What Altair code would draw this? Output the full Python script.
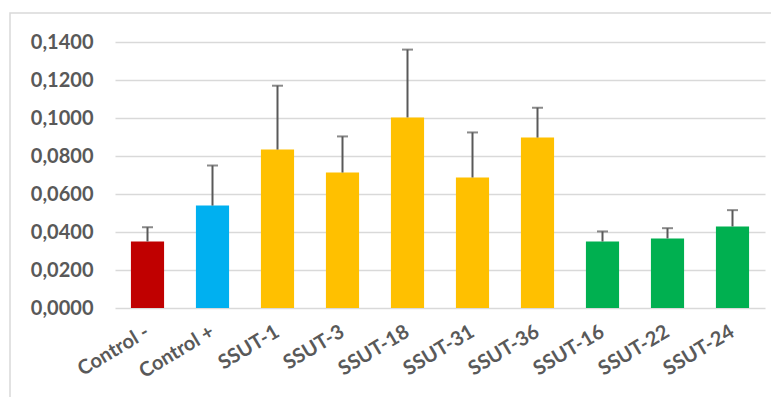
import altair as alt
import pandas as pd

categories = ["Control -", "Control +", "SSUT-1", "SSUT-3", "SSUT-18",
              "SSUT-31", "SSUT-36", "SSUT-16", "SSUT-22", "SSUT-24"]
means = [0.0350, 0.0539, 0.0834, 0.0713, 0.1003, 0.0687, 0.0897, 0.0350, 0.0366, 0.0429]
errors = [0.0075, 0.0211, 0.0336, 0.0190, 0.0357, 0.0237, 0.0157, 0.0053, 0.0054, 0.0086]
groups = ["neg", "pos", "a", "a", "a", "a", "a", "b", "b", "b"]
group_names = ["neg", "pos", "a", "b"]
group_colors = ["#C00000", "#00B0F0", "#FFC000", "#00B050"]
y_ticks = [0, 0.02, 0.04, 0.06, 0.08, 0.10, 0.12, 0.14]

df = pd.DataFrame({
    "cat": categories,
    "mean": means,
    "top": [m + e for m, e in zip(means, errors)],
    "grp": groups,
})

FONT = "Lato"
TXT = "#595959"

x_axis = alt.Axis(labelAngle=-31, labelAlign="right", labelBaseline="middle",
                  labelFont=FONT, labelFontSize=20, labelFontWeight="bold",
                  labelColor=TXT, labelPadding=22, ticks=False, domain=False,
                  labelOverlap=False, labelLimit=300)
x_scale = alt.Scale(paddingInner=0.49, paddingOuter=0.245)
y_axis = alt.Axis(values=y_ticks, format=".4f", labelFont=FONT, labelFontSize=20,
                  labelFontWeight="bold", labelColor=TXT, labelPadding=22,
                  labelOverlap=False, ticks=False, domain=False,
                  gridColor="#D9D9D9", gridWidth=1.5)
y_scale = alt.Scale(domain=[0, 0.14], nice=False)


def X():
    return alt.X("cat:N", sort=categories, title=None, scale=x_scale, axis=x_axis)


def Y(field):
    return alt.Y(field, title=None, scale=y_scale, axis=y_axis)


base = alt.Chart(df)

bars = base.mark_bar().encode(
    x=X(),
    y=Y("mean:Q"),
    color=alt.Color("grp:N", scale=alt.Scale(domain=group_names, range=group_colors), legend=None),
)

err = base.mark_rule(color=TXT, strokeWidth=2).encode(
    x=X(),
    y=Y("mean:Q"),
    y2="top:Q",
)
caps = base.mark_tick(color=TXT, thickness=2, size=11, orient="horizontal").encode(
    x=X(),
    y=Y("top:Q"),
)

frame = alt.Chart(pd.DataFrame({"k": [0]})).mark_rect(
    fill=None, stroke="#D9D9D9", strokeWidth=1.5
).encode(
    x=alt.value(-105), x2=alt.value(670), y=alt.value(-29), y2=alt.value(380)
)

chart = alt.layer(bars, err, caps, frame).properties(
    width=650, height=266,
    padding={"left": 107, "top": 34, "right": 6, "bottom": 89},
    autosize=alt.AutoSizeParams(type="none"),
).configure(
    locale={"number": {"decimal": ",", "thousands": ".", "grouping": [3], "currency": ["", " €"]}},
    view=alt.ViewConfig(stroke=None),
)

chart.save("out.html", embed_options={"renderer": "svg", "actions": False})
